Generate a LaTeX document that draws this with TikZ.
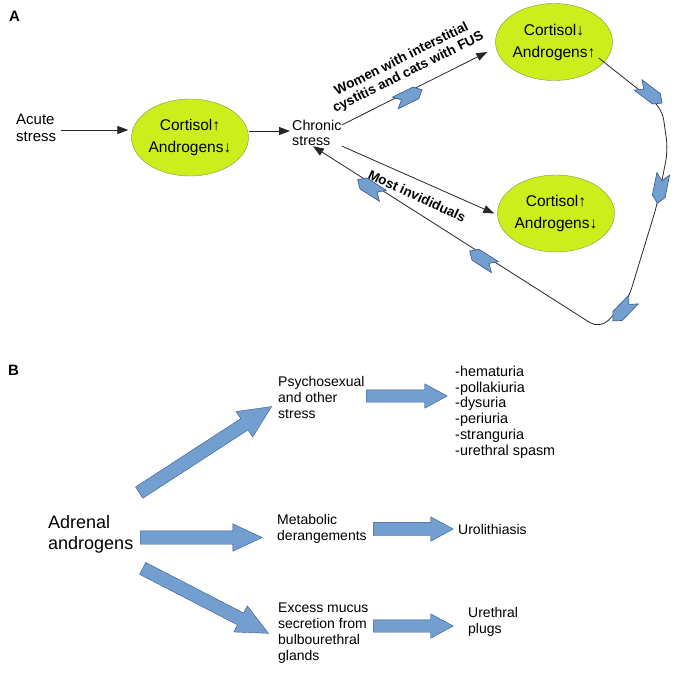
\documentclass[tikz,border=0pt]{standalone}
\usepackage{fontspec}
\setmainfont{Liberation Sans}
\usetikzlibrary{shapes.geometric,shapes.arrows,arrows.meta,calc}
\definecolor{cortfill}{RGB}{204,238,28}
\definecolor{cortline}{RGB}{130,150,70}
\definecolor{chevblue}{RGB}{114,159,207}
\definecolor{chevline}{RGB}{52,88,140}
\tikzstyle{state} = [draw=cortline, fill=cortfill, ellipse, minimum width=112pt,
    minimum height=77pt, inner sep=0pt, align=center, font=\fontsize{15.5}{22}\selectfont]
\tikzstyle{txt} = [align=left, anchor=west, inner sep=0pt, font=\fontsize{14}{16}\selectfont]
\tikzstyle{conn} = [draw=black!85, line width=0.8pt, -{Triangle[length=11pt,width=8pt]}]
\tikzstyle{fat} = [single arrow, draw=chevline, fill=chevblue, anchor=tail, inner xsep=0pt,
    minimum width=0pt, single arrow head indent=0pt]
\tikzstyle{panel} = [font=\bfseries\fontsize{15}{15}\selectfont]
\tikzstyle{slant} = [align=center, font=\bfseries\fontsize{13.5}{15}\selectfont]
\tikzset{chevron/.pic={
    \filldraw [arrows=-, sharp corners, draw=chevline, fill=chevblue, line width=0.6pt]
        (-15,-6.5) -- (8,-6.5) -- (15,0) -- (8,6.5) -- (-15,6.5) -- (-8,0) -- cycle;}}
\newcommand{\up}{{\bfseries↑}}
\newcommand{\down}{{\bfseries↓}}

\begin{document}
\begin{tikzpicture}[x=1pt, y=1pt]
    \useasboundingbox (0,0) rectangle (679,-673);
    % panel A
    \node [panel] (la) at (14.5,-16.5) {A};
    \node [txt, font=\fontsize{15}{17.5}\selectfont] (acute) at (16,-128) {Acute\\stress};
    \node [state] (cort1) at (190,-137.5) {Cortisol\up\\Androgens\down};
    \node [txt, font=\fontsize{14.3}{15.5}\selectfont] (chronic) at (292,-133) {Chronic\\stress};
    \node [state] (cort2) at (554,-42) {Cortisol\down\\Androgens\up};
    \node [state] (cort3) at (556,-213.5) {Cortisol\up\\Androgens\down};
    \node [slant, rotate=26.5] (women) at (405,-66) {Women with interstitial\\cystitis and cats with FUS};
    \node [slant, rotate=-25] (most) at (417,-196) {Most invididuals};
    \coordinate (w0) at ([yshift=8pt]chronic.east);
    \coordinate (w1) at ([shift={(-8pt,-10pt)}]cort2.west);
    \coordinate (r0) at ([shift={(-14pt,-16pt)}]cort2.east);
    \coordinate (r1) at (662,-108);
    \coordinate (r2) at (668,-150);
    \coordinate (r3) at (657,-205);
    \coordinate (r4) at (628,-300);
    \coordinate (r5) at (600,-329);
    \coordinate (r6) at ([xshift=-4pt]chronic.south);
    \draw [conn, shorten <=5pt, shorten >=3pt] ([yshift=-2pt]acute.east) -- ([yshift=-2pt]acute.east -| cort1.west);
    \draw [conn, shorten >=2pt] ([yshift=6.5pt]cort1.east) -- ([yshift=6.5pt]cort1.east -| chronic.west);
    \draw [conn] (w0) -- (w1);
    \draw [conn] ([yshift=-13pt]chronic.east) -- ([xshift=-3pt]cort3.west);
    \draw [conn, rounded corners=12pt] (r0) -- (r1) -- (r2) -- (r3) -- (r4) -- (r5) -- (r6);
    % chevrons on the loop
    \pic [rotate=26.1] at ($(w0)!0.46!(w1)+(0,-5)$) {chevron};
    \pic [rotate=-37.1] at ($(r0)!0.78!(r1)+(2,3)$) {chevron};
    \pic [rotate=-101.3] at ($(r2)!0.7!(r3)$) {chevron};
    \pic [rotate=-134] at ($(r4)!0.35!(r5)+(5,0)$) {chevron};
    \pic [rotate=147.5] at ($(r5)!0.41!(r6)+(0,-5)$) {chevron};
    \pic [rotate=147.5] at ($(r5)!0.8!(r6)+(0,-5)$) {chevron};
    % panel B
    \node [panel] (lb) at (13.5,-370) {B};
    \node [txt, font=\fontsize{18}{21}\selectfont] (adrenal) at (48,-534) {Adrenal\\androgens};
    \node [txt] (psycho) at (278,-397) {Psychosexual\\and other\\stress};
    \node [txt] (metab) at (277,-529) {Metabolic\\derangements};
    \node [txt] (mucus) at (278,-633) {Excess mucus\\secretion from\\bulbourethral\\glands};
    \node [txt, font=\fontsize{14.4}{15.8}\selectfont] (sympt) at (455,-412) {-hematuria\\-pollakiuria\\-dysuria\\-periuria\\-stranguria\\-urethral spasm};
    \node [txt] (uro) at (458,-529) {Urolithiasis};
    \node [txt] (plugs) at (468,-622) {Urethral\\plugs};
    \node [fat, rotate=33, minimum height=158pt, inner ysep=6.5pt, single arrow head extend=8.5pt,
        single arrow tip angle=50] (a1) at (139,-492.7) {};
    \node [fat, minimum height=122pt, inner ysep=6.5pt, single arrow head extend=7pt,
        single arrow tip angle=50] (a2) at (140,-537.5) {};
    \node [fat, rotate=-27.3, minimum height=141.6pt, inner ysep=6.5pt, single arrow head extend=8pt,
        single arrow tip angle=50] (a3) at (142.5,-568.3) {};
    \node [fat, minimum height=81pt, inner ysep=6pt, single arrow head extend=6pt,
        single arrow tip angle=57] (b1) at (366,-396) {};
    \node [fat, minimum height=80pt, inner ysep=6.5pt, single arrow head extend=5.5pt,
        single arrow tip angle=57] (b2) at (373,-529) {};
    \node [fat, minimum height=80pt, inner ysep=6pt, single arrow head extend=6pt,
        single arrow tip angle=57] (b3) at (373,-626) {};
\end{tikzpicture}
\end{document}
